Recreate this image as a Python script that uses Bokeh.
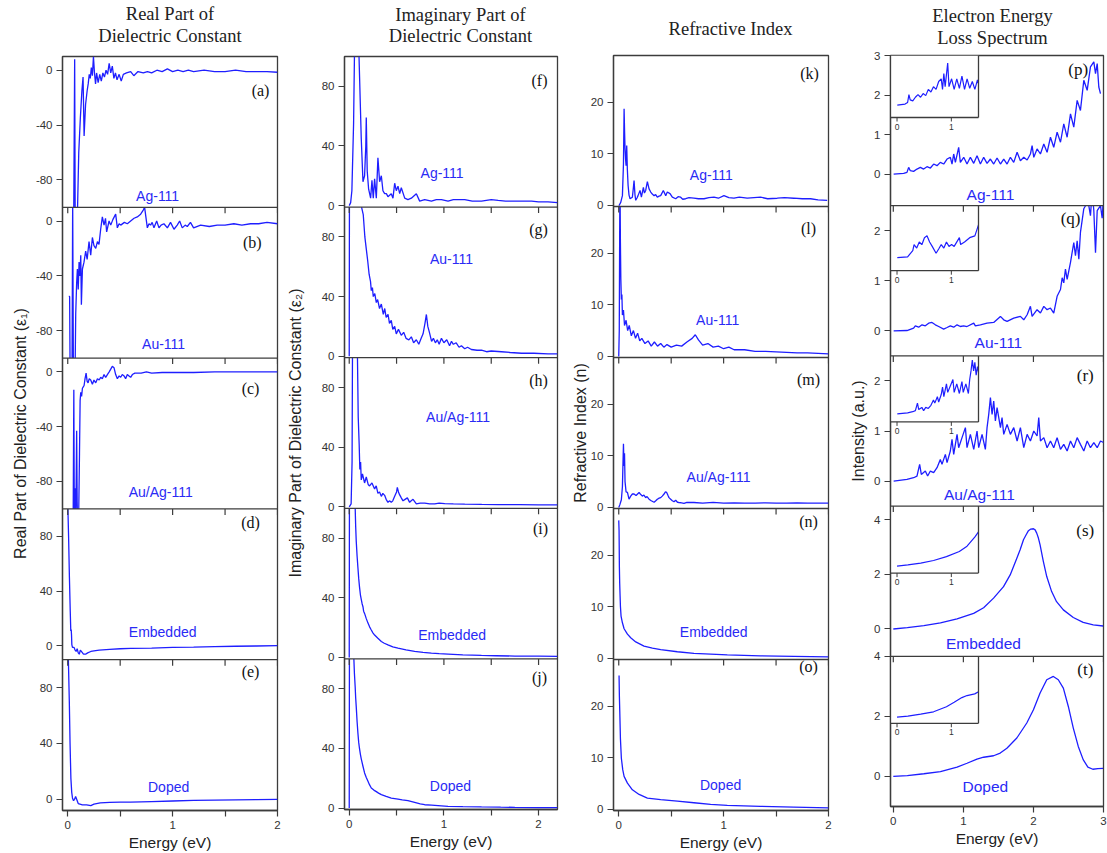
import numpy as np
from bokeh.plotting import figure
from bokeh.models import Range1d, FixedTicker, CustomJSTickFormatter, Span
from bokeh.layouts import row, column
from bokeh.embed import file_html
from bokeh.resources import INLINE
from bokeh.core.properties import value

# ---------------- texts ----------------
col_titles = [["Real Part of", "Dielectric Constant"],
              ["Imaginary Part of", "Dielectric Constant"],
              ["Refractive Index"],
              ["Electron Energy", "Loss Spectrum"]]
y_labels = ["Real Part of Dielectric Constant (\u03b5\u2081)",
            "Imaginary Part of Dielectric Constant (\u03b5\u2082)",
            "Refractive Index (n)",
            "Intensity (a.u.)"]
x_label = "Energy (eV)"
systems = ["Ag-111", "Au-111", "Au/Ag-111", "Embedded", "Doped"]
letters = [["(a)", "(b)", "(c)", "(d)", "(e)"],
           ["(f)", "(g)", "(h)", "(i)", "(j)"],
           ["(k)", "(l)", "(m)", "(n)", "(o)"],
           ["(p)", "(q)", "(r)", "(s)", "(t)"]]

# ---------------- tick values ----------------
x_ticks_half = [0, 0.5, 1, 1.5, 2]
x_ticks_int = [0, 1, 2, 3]
inset_x_ticks = [0, 1]
t_eps1_metal = [-80, -40, 0]
t_eps1_comp = [0, 40, 80]
t_eps2 = [0, 40, 80]
t_n = [0, 10, 20]
t_el_p = [0, 1, 2, 3]
t_el_qr = [0, 1, 2]
t_el_st = [0, 2, 4]

# ---------------- data (energy eV, value) ----------------
re_ag = [(0.055,-130),(0.066,8),(0.072,-130),(0.088,-120),(0.105,-60),(0.12,-35),(0.135,-15),(0.146,-5),
         (0.156,-48),(0.17,-25),(0.185,-15),(0.195,-10),(0.205,-3),(0.215,-6),(0.225,2),(0.235,-4),(0.245,10),
         (0.255,-2),(0.265,-10),(0.275,-2),(0.29,-9),(0.305,-3),(0.32,-8),(0.335,-2),(0.35,-5),(0.365,0),
         (0.38,-3),(0.395,5),(0.41,-2),(0.425,3),(0.44,-6),(0.455,-2),(0.47,-7),(0.49,-3),(0.51,-8),(0.53,-3),
         (0.56,-2),(0.6,-1),(0.63,-4),(0.67,-1),(0.72,-2),(0.76,-1),(0.8,-2),(0.85,0),(0.9,-1),(0.95,1),
         (1.0,-1),(1.05,0),(1.1,-1),(1.15,0),(1.2,-1),(1.3,0),(1.4,-1),(1.5,-1),(1.6,0),(1.7,-1),(1.8,-1),
         (1.9,-1),(2.0,-1.5)]
re_au = [(0.01,-55),(0.018,-55),(0.024,-130),(0.04,-130),(0.047,15),(0.055,-130),(0.07,-110),(0.076,-68),
         (0.085,-45),(0.092,-35),(0.1,-50),(0.108,-30),(0.117,-40),(0.124,-25),(0.13,-61),(0.14,-35),(0.155,-30),
         (0.171,-22),(0.185,-28),(0.203,-15),(0.219,-25),(0.235,-12),(0.25,-18),(0.267,-20),(0.283,-15),
         (0.298,-17),(0.314,-6),(0.33,3),(0.346,-3),(0.36,2),(0.371,-8),(0.394,0),(0.41,-3),(0.43,1),(0.457,5),
         (0.473,-5),(0.49,-2),(0.505,-3),(0.54,-1),(0.568,-2),(0.6,0),(0.632,2),(0.663,3),(0.695,5),(0.72,8),
         (0.733,10),(0.745,3),(0.759,-5),(0.775,-2),(0.79,-3),(0.805,-1),(0.822,-5),(0.848,0),(0.87,-5),
         (0.89,-3),(0.917,-2),(0.95,-5),(0.98,-1),(1.013,-6),(1.044,-3),(1.067,0),(1.092,-5),(1.12,-3),
         (1.14,-4),(1.17,-1),(1.2,-5),(1.267,-3),(1.35,-4),(1.425,-3),(1.5,-3),(1.584,-2),(1.66,-3),
         (1.743,-2),(1.82,-2),(1.9,-1),(2.0,-2)]
re_auag = [(0.05,-130),(0.058,-13),(0.064,-130),(0.072,-85),(0.078,-100),(0.085,-43),(0.09,-95),(0.1,-130),
           (0.112,-60),(0.118,-21),(0.124,-15),(0.132,-18),(0.14,-12),(0.148,-11),(0.156,-10),(0.165,-5),
           (0.175,-1),(0.185,-7),(0.194,-8),(0.205,-5),(0.219,-6),(0.235,-9),(0.25,-6),(0.267,-8),(0.283,-5),
           (0.3,-6),(0.314,-4),(0.33,-5),(0.346,-2),(0.362,-4),(0.378,-2),(0.395,0),(0.41,2),(0.425,4),
           (0.441,3),(0.457,-2),(0.473,-5),(0.49,-3),(0.505,-4),(0.52,-2),(0.537,-3),(0.552,-5),(0.568,-2),
           (0.584,-3),(0.6,-4),(0.616,-2),(0.64,-1),(0.663,-1),(0.7,-1),(0.75,0),(0.8,-1),(0.9,-0.5),
           (1.0,-0.5),(1.2,-0.5),(1.4,0),(1.6,0),(1.8,0),(2.0,0)]
re_emb = [(0.0,105),(0.008,80),(0.016,50),(0.024,25),(0.029,11),(0.033,12),(0.036,8),(0.039,1),(0.045,-1),
          (0.06,-1),(0.07,-3),(0.08,-4),(0.09,-2),(0.1,-5),(0.11,-6),(0.12,-3),(0.13,-4),(0.15,-6),(0.17,-6),
          (0.19,-5),(0.22,-4),(0.25,-3.5),(0.3,-3),(0.4,-2.5),(0.5,-2),(0.6,-1.8),(0.8,-1.5),(1.0,-1),
          (1.2,-0.8),(1.4,-0.5),(1.6,-0.2),(1.8,0),(2.0,0.3)]
re_dop = [(0.0,130),(0.006,100),(0.015,70),(0.022,40),(0.03,15),(0.038,5),(0.045,1),(0.055,-1),(0.065,0),
          (0.075,2),(0.085,0),(0.1,-3),(0.14,-4),(0.18,-4),(0.22,-4.5),(0.25,-3.5),(0.31,-2.6),(0.4,-2.2),
          (0.5,-2),(0.6,-2),(0.8,-1.6),(1.0,-1.2),(1.2,-0.8),(1.4,-0.6),(1.6,-0.4),(1.8,-0.2),(2.0,0)]

im_ag = [(0.0,0),(0.015,2),(0.028,10),(0.046,55),(0.056,105),(0.07,200),(0.09,200),(0.099,110),(0.127,45),
         (0.145,16),(0.162,20),(0.175,40),(0.18,59),(0.19,23),(0.205,11),(0.226,5),(0.24,17),(0.254,5),
         (0.268,18),(0.286,5),(0.303,32),(0.321,16),(0.339,20),(0.356,10),(0.374,8),(0.392,8),(0.409,6),
         (0.444,8),(0.462,5),(0.48,15),(0.497,10),(0.515,13),(0.533,8),(0.55,12),(0.586,5),(0.62,4),
         (0.656,5),(0.709,8),(0.744,3),(0.797,4),(0.868,3),(0.92,4),(0.974,4),(1.044,3),(1.1,4),(1.22,4),
         (1.3,3),(1.397,3),(1.5,4),(1.573,3.5),(1.65,3),(1.75,3),(1.85,3),(1.926,3),(2.0,2.5),(2.1,2.5),(2.2,2)]
im_au = [(0.0,0),(0.004,200),(0.12,200),(0.13,100),(0.148,95),(0.165,80),(0.18,72),(0.195,64),
         (0.21,55),(0.225,50),(0.233,44),(0.245,46),(0.254,40),(0.27,42),(0.286,36),(0.3,38),(0.32,32),
         (0.339,35),(0.36,28),(0.375,32),(0.39,26),(0.41,28),(0.425,22),(0.444,24),(0.46,18),(0.48,20),
         (0.497,15),(0.52,18),(0.55,14),(0.575,16),(0.6,12),(0.63,11),(0.656,13),(0.68,9),(0.709,11),
         (0.735,8),(0.76,12),(0.78,15),(0.8,22),(0.815,28),(0.83,20),(0.847,16),(0.87,10),(0.889,12),
         (0.91,9),(0.93,11),(0.95,8),(0.974,12),(1.0,9),(1.03,11),(1.06,7),(1.08,10),(1.1,8),(1.13,9),
         (1.16,6),(1.185,7),(1.22,5),(1.25,6),(1.29,4.5),(1.35,4),(1.397,4),(1.45,3),(1.5,3.5),(1.608,3),
         (1.7,2.5),(1.82,2),(1.95,2),(2.1,1.5),(2.21,1.5)]
im_auag = [(0.0,0),(0.02,2),(0.03,30),(0.04,200),(0.07,200),(0.085,110),(0.095,60),(0.105,42),(0.112,25),
           (0.12,30),(0.127,18),(0.14,22),(0.162,16),(0.18,20),(0.2,15),(0.215,14),(0.24,16),(0.268,12),
           (0.285,14),(0.303,9),(0.32,10),(0.339,7),(0.355,9),(0.374,7.7),(0.39,5),(0.409,3),(0.425,4),
           (0.444,3),(0.46,4),(0.48,7),(0.5,10),(0.508,13),(0.52,10),(0.533,8),(0.55,6),(0.568,4),(0.59,5),
           (0.614,6),(0.638,3),(0.655,4),(0.674,5),(0.709,2),(0.75,2.5),(0.797,2.5),(0.85,2),(0.903,2),
           (0.95,2.5),(1.009,2.2),(1.1,2),(1.22,1.8),(1.4,1.6),(1.573,1.5),(1.8,1.4),(2.0,1.3),(2.21,1.3)]
im_emb = [(0.0,0),(0.004,200),(0.05,200),(0.063,100),(0.068,88),(0.074,78),(0.083,68),(0.092,60),(0.1,53),
          (0.109,47),(0.118,42),(0.127,39),(0.136,36),(0.145,34),(0.152,31),(0.162,29.5),(0.18,26),
          (0.198,23),(0.215,20.5),(0.233,18.4),(0.25,16.5),(0.268,15),(0.3,13),(0.339,10.7),(0.37,9.5),
          (0.409,8.4),(0.46,7),(0.515,6.2),(0.6,5),(0.691,4),(0.78,3.4),(0.868,2.9),(0.95,2.5),(1.044,2.2),
          (1.2,1.7),(1.397,1.3),(1.55,1.1),(1.75,0.9),(2.0,0.8),(2.21,0.7)]
im_dop = [(0.0,0),(0.004,200),(0.045,200),(0.049,100),(0.055,90),(0.063,81),(0.068,74),(0.074,68),
          (0.083,58),(0.092,50),(0.1,44),(0.109,39.6),(0.118,36),(0.127,33),(0.145,28),(0.162,23.5),
          (0.18,20.5),(0.198,18),(0.215,15.5),(0.233,13.4),(0.26,12),(0.286,11),(0.31,10),(0.339,9),
          (0.39,7.8),(0.444,6.7),(0.515,6),(0.56,5.5),(0.62,5),(0.691,3.8),(0.75,2.8),(0.797,2.2),
          (0.87,1.9),(0.938,1.6),(1.044,1.1),(1.2,0.9),(1.397,0.7),(1.6,0.55),(1.75,0.45),(2.0,0.3),(2.21,0.2)]

n_ag = [(0.0,0),(0.003,0),(0.019,0.6),(0.035,1.9),(0.045,8),(0.051,18.7),(0.056,14),(0.06,11),(0.065,9),
        (0.07,7.7),(0.076,11.6),(0.082,7),(0.089,3.9),(0.098,2),(0.108,1.3),(0.13,1.6),(0.14,3.5),
        (0.146,4.8),(0.155,2),(0.162,1),(0.175,1.5),(0.184,1.9),(0.203,2.9),(0.216,1.6),(0.235,3.5),
        (0.245,2.4),(0.257,2.9),(0.273,4.6),(0.289,3.2),(0.305,2.6),(0.32,2.2),(0.337,1.9),(0.352,2.1),
        (0.368,1.6),(0.384,1.8),(0.4,1.9),(0.425,2.9),(0.448,1.9),(0.463,2.6),(0.489,2.3),(0.511,1.6),
        (0.543,1.3),(0.566,1.7),(0.59,1.6),(0.61,1.2),(0.638,1.3),(0.67,1.5),(0.717,1.4),(0.76,1.3),
        (0.813,1.3),(0.86,1.5),(0.908,1.6),(0.95,1.4),(1.003,1.9),(1.05,1.5),(1.098,1.4),(1.15,1.6),
        (1.225,1.4),(1.29,1.5),(1.352,1.6),(1.42,1.3),(1.511,1.4),(1.58,1.5),(1.67,1.4),(1.75,1.3),
        (1.829,1.3),(1.9,1.1),(1.987,1.0)]
n_au = [(0.0,0),(0.005,5),(0.01,29.5),(0.013,31),(0.016,22),(0.02,15),(0.025,11),(0.03,12),(0.035,8),
        (0.045,9),(0.055,6),(0.07,7),(0.085,5),(0.1,6),(0.12,4),(0.14,5),(0.16,3.5),(0.18,4.5),(0.2,3),
        (0.22,3.5),(0.25,2.5),(0.28,3),(0.31,2),(0.34,2.8),(0.37,2),(0.4,2.5),(0.43,1.8),(0.46,2.3),
        (0.5,1.8),(0.55,2.2),(0.6,2),(0.65,2.8),(0.7,3.5),(0.73,4.2),(0.76,3.2),(0.8,2.2),(0.85,2.5),
        (0.9,1.8),(0.95,2),(1.0,1.5),(1.05,1.8),(1.1,1.3),(1.2,1.3),(1.3,1),(1.4,1),(1.5,0.9),(1.6,0.8),
        (1.7,0.7),(1.8,0.7),(1.9,0.6),(2.0,0.5)]
n_auag = [(0.0,0),(0.01,0.5),(0.025,1.5),(0.035,4),(0.045,12.3),(0.05,8),(0.055,10.5),(0.06,5),(0.07,3),
          (0.083,2.9),(0.098,1.6),(0.114,2.2),(0.13,2.6),(0.146,2.6),(0.165,2.3),(0.194,2.9),(0.21,2.5),
          (0.225,2.2),(0.24,2.4),(0.257,1.9),(0.27,2.1),(0.289,1.6),(0.31,1.3),(0.337,1.0),(0.353,1.3),
          (0.368,1.6),(0.385,1.8),(0.4,1.9),(0.415,2.2),(0.432,2.6),(0.445,3.0),(0.457,2.9),(0.47,2.3),
          (0.479,1.9),(0.495,1.6),(0.511,1.3),(0.527,1.1),(0.543,1.4),(0.56,1.0),(0.575,0.96),(0.6,0.9),
          (0.622,0.8),(0.65,1.0),(0.717,0.96),(0.8,0.85),(0.9,1.0),(1.0,0.85),(1.1,0.9),(1.2,0.85),
          (1.3,0.85),(1.4,0.9),(1.5,0.85),(1.6,0.85),(1.7,0.9),(1.8,0.85),(1.9,0.85),(2.0,0.85)]
n_emb = [(0.0,26.7),(0.003,24.8),(0.0045,21.6),(0.006,17.8),(0.009,14.6),(0.013,12),(0.016,10.1),
         (0.022,8.2),(0.035,6.9),(0.051,5.75),(0.083,4.7),(0.114,4),(0.162,3.2),(0.241,2.4),(0.321,2),
         (0.4,1.7),(0.559,1.3),(0.717,1),(0.876,0.85),(1.035,0.7),(1.352,0.5),(1.67,0.4),(2.0,0.3)]
n_dop = [(0.003,25.9),(0.006,22),(0.01,18.8),(0.016,13.7),(0.025,9.9),(0.038,7.7),(0.051,6.4),(0.083,5.1),
         (0.13,3.8),(0.194,2.9),(0.273,2.2),(0.4,1.9),(0.559,1.6),(0.717,1.3),(0.876,1.0),(1.035,0.8),
         (1.352,0.6),(1.67,0.45),(2.0,0.3)]

el_ag = [(0.005,0),(0.148,0.017),(0.195,0.042),(0.219,0.17),(0.243,0.085),(0.29,0.068),(0.338,0.127),
         (0.386,0.17),(0.433,0.127),(0.481,0.186),(0.529,0.153),(0.576,0.254),(0.624,0.212),(0.671,0.297),
         (0.719,0.254),(0.767,0.381),(0.814,0.424),(0.838,0.254),(0.862,0.508),(0.886,0.297),(0.933,0.678),
         (0.957,0.297),(1.005,0.424),(1.052,0.254),(1.1,0.424),(1.148,0.271),(1.195,0.466),(1.243,0.254),
         (1.29,0.424),(1.338,0.271),(1.386,0.381),(1.433,0.254),(1.481,0.407),(1.529,0.254),(1.576,0.381),
         (1.624,0.254),(1.671,0.424),(1.719,0.297),(1.767,0.551),(1.814,0.339),(1.862,0.424),(1.91,0.356),
         (1.957,0.508),(1.981,0.72),(2.005,0.424),(2.052,0.636),(2.1,0.508),(2.148,0.763),(2.195,0.551),
         (2.243,0.932),(2.29,0.678),(2.338,1.059),(2.386,0.805),(2.433,1.271),(2.481,0.932),(2.529,1.525),
         (2.576,1.186),(2.624,1.864),(2.671,1.61),(2.719,2.373),(2.767,2.119),(2.814,2.712),(2.862,2.839),
         (2.886,2.542),(2.91,2.797),(2.933,2.203),(2.957,2.034)]
el_au = [(0.005,0),(0.195,0.007),(0.29,0.054),(0.314,0.1),(0.362,0.074),(0.41,0.121),(0.457,0.1),
         (0.505,0.154),(0.552,0.168),(0.6,0.121),(0.648,0.087),(0.719,0.034),(0.767,0.067),(0.814,0.101),
         (0.862,0.074),(0.91,0.121),(0.957,0.087),(1.005,0.101),(1.052,0.087),(1.148,0.154),(1.171,0.101),
         (1.243,0.121),(1.338,0.154),(1.433,0.168),(1.529,0.289),(1.576,0.221),(1.624,0.188),(1.719,0.255),
         (1.814,0.289),(1.862,0.221),(1.91,0.322),(1.957,0.49),(1.981,0.289),(2.052,0.423),(2.1,0.356),
         (2.148,0.49),(2.195,0.423),(2.243,0.456),(2.29,0.356),(2.338,0.691),(2.386,0.826),(2.41,1.06),
         (2.433,0.96),(2.457,1.235),(2.481,1.03),(2.529,1.369),(2.576,1.765),(2.6,1.5),(2.624,1.8),
         (2.648,1.43),(2.671,1.966),(2.719,2.44),(2.743,2.5),(2.767,2.8),(2.79,2.5),(2.814,2.3),(2.838,2.8),
         (2.862,2.4),(2.886,1.56),(2.91,2.4),(2.957,2.5),(2.981,2.25),(3.005,2.8)]
el_auag = [(0.005,0),(0.195,0.033),(0.29,0.067),(0.338,0.1),(0.376,0.333),(0.4,0.133),(0.457,0.2),
           (0.49,0.1),(0.529,0.2),(0.576,0.167),(0.624,0.267),(0.671,0.433),(0.695,0.333),(0.743,0.533),
           (0.767,0.367),(0.814,0.6),(0.838,0.833),(0.862,0.533),(0.91,0.933),(0.933,0.667),(0.981,0.867),
           (1.029,1.067),(1.052,0.667),(1.1,0.933),(1.148,0.633),(1.195,1.0),(1.219,0.667),(1.267,0.933),
           (1.314,0.633),(1.338,1.067),(1.362,1.333),(1.386,1.667),(1.41,1.333),(1.433,1.6),(1.457,1.2),
           (1.481,1.467),(1.529,1.067),(1.552,1.267),(1.576,0.933),(1.624,1.133),(1.671,0.933),(1.719,1.067),
           (1.767,0.8),(1.814,1.067),(1.862,0.667),(1.91,0.933),(1.957,0.8),(2.005,1.0),(2.052,0.9),
           (2.076,1.267),(2.1,0.8),(2.148,0.867),(2.195,0.667),(2.243,0.8),(2.29,0.667),(2.338,0.867),
           (2.386,0.633),(2.433,0.733),(2.481,0.6),(2.529,0.8),(2.576,0.667),(2.624,0.867),(2.671,0.733),
           (2.719,0.6),(2.767,0.8),(2.814,0.667),(2.862,0.767),(2.91,0.667),(2.957,0.8),(3.005,0.767)]
el_emb = [(0.0,0),(0.2,0.05),(0.436,0.12),(0.673,0.22),(0.91,0.37),(1.147,0.57),(1.289,0.78),(1.431,1.13),
          (1.573,1.55),(1.668,1.98),(1.763,2.59),(1.81,2.9),(1.858,3.27),(1.896,3.45),(1.929,3.6),
          (1.962,3.66),(2.0,3.67),(2.024,3.63),(2.047,3.51),(2.071,3.33),(2.095,3.08),(2.118,2.78),
          (2.142,2.47),(2.19,1.92),(2.26,1.37),(2.33,1.0),(2.427,0.7),(2.569,0.42),(2.71,0.24),(2.853,0.15),
          (2.995,0.11)]
el_dop = [(0.0,0),(0.2,0.03),(0.436,0.09),(0.673,0.16),(0.91,0.31),(1.052,0.44),(1.194,0.58),(1.289,0.64),
          (1.431,0.69),(1.526,0.78),(1.621,0.94),(1.763,1.28),(1.905,1.78),(2.0,2.22),(2.095,2.78),
          (2.19,3.22),(2.284,3.33),(2.355,3.22),(2.427,2.94),(2.498,2.33),(2.569,1.61),(2.64,1.0),
          (2.71,0.56),(2.777,0.31),(2.848,0.24),(2.92,0.26),(2.995,0.27)]

# ---------------- styles / layout ----------------
BLUE = "#1e1eff"
TXT_BLUE = "#2a2af5"
AX = "#3c3c3c"
DARK = "#222222"
SANS = "Liberation Sans"
SERIF = "Liberation Serif"
PAGE_H = 853
NP = 5

columns = [
    dict(xr=(-0.05, 2.0), xt=x_ticks_half, W=282, mbl=62, mbr=5, TH=48, FH=756, ylab_so=4,
         t_off=0, t_y=[13.5, 35], lab_fs="14px", let_fs="16px",
         panels=[dict(d=re_ag, lo=-100, hi=10, t=t_eps1_metal, lab=(0.857, -92), let=(1.838, -15)),
                 dict(d=re_au, lo=-100, hi=10, t=t_eps1_metal, lab=(0.914, -90), let=(1.76, -15.5)),
                 dict(d=re_auag, lo=-100, hi=10, t=t_eps1_metal, lab=(0.886, -87.5), let=(1.743, -12)),
                 dict(d=re_emb, lo=-10, hi=100, t=t_eps1_comp, lab=(0.905, 10), let=(1.743, 90)),
                 dict(d=re_dop, lo=-8, hi=100, t=t_eps1_comp, lab=(0.962, 9), let=(1.743, 91.5))]),
    dict(xr=(-0.05, 2.2), xt=x_ticks_half, W=278, mbl=62, mbr=3, TH=48, FH=753, ylab_so=15,
         t_off=9.5, t_y=[14, 35], lab_fs="14px", let_fs="16px",
         panels=[dict(d=im_ag, lo=-1, hi=100, t=t_eps2, lab=(0.981, 22), let=(2.01, 84)),
                 dict(d=im_au, lo=-1, hi=100, t=t_eps2, lab=(1.08, 65), let=(2.0, 85)),
                 dict(d=im_auag, lo=-1, hi=100, t=t_eps2, lab=(1.15, 60), let=(2.0, 84.5)),
                 dict(d=im_emb, lo=-1, hi=100, t=t_eps2, lab=(1.087, 15), let=(2.02, 86.5)),
                 dict(d=im_dop, lo=-1, hi=100, t=t_eps2, lab=(1.069, 15), let=(2.01, 87.5))]),
    dict(xr=(-0.05, 2.0), xt=x_ticks_half, W=273, mbl=53, mbr=5, TH=47, FH=757, ylab_so=-1,
         t_off=9.5, t_y=[28], lab_fs="14px", let_fs="16px",
         panels=[dict(d=n_ag, lo=-0.2, hi=29, t=t_n, lab=(0.883, 5.9), let=(1.819, 25.5)),
                 dict(d=n_au, lo=-0.2, hi=29, t=t_n, lab=(0.943, 7.0), let=(1.81, 24.8)),
                 dict(d=n_auag, lo=-0.2, hi=29, t=t_n, lab=(0.952, 5.8), let=(1.81, 24.8)),
                 dict(d=n_emb, lo=-0.2, hi=29, t=t_n, lab=(0.905, 5.1), let=(1.81, 26.4)),
                 dict(d=n_dop, lo=-0.2, hi=29, t=t_n, lab=(0.971, 4.75), let=(1.81, 27.6))]),
    dict(xr=(-0.04, 3.0), xt=x_ticks_int, W=274, mbl=57, mbr=4, TH=47, FH=751, ylab_so=4,
         t_off=-4.5, t_y=[15, 37], lab_fs="15.5px", let_fs="17px",
         panels=[dict(d=el_ag, lo=-0.8, hi=3, t=t_el_p, lab=(1.386, -0.51), let=(2.64, 2.64),
                      ins=dict(yr=(-0.2, 0.8), h=62)),
                 dict(d=el_au, lo=-0.5, hi=2.5, t=t_el_qr, lab=(1.5, -0.24), let=(2.53, 2.24),
                      ins=dict(yr=(-0.1, 0.4), h=65)),
                 dict(d=el_auag, lo=-0.5, hi=2.5, t=t_el_qr, lab=(1.229, -0.26), let=(2.74, 2.1),
                      ins=dict(yr=(-0.25, 1.8), h=66)),
                 dict(d=el_emb, lo=-1, hi=4.5, t=t_el_st, lab=(1.286, -0.54), let=(2.74, 3.6),
                      ins=dict(yr=(-0.27, 2.34), h=67)),
                 dict(d=el_dop, lo=-1, hi=4, t=t_el_st, lab=(1.314, -0.34), let=(2.74, 3.56),
                      ins=dict(yr=(-0.18, 1.8), h=67))]),
]
INSET_XR = (-0.12, 1.5)
INSET_W = 88
MAIN_TOP = 8


def clip_poly(xs, ys, xlo, xhi, ylo, yhi):
    """Liang-Barsky clipping of a polyline to a rectangle; gaps become NaN."""
    ox, oy = [], []
    last = None
    for i in range(len(xs) - 1):
        x0, y0, x1, y1 = xs[i], ys[i], xs[i + 1], ys[i + 1]
        dx, dy = x1 - x0, y1 - y0
        t0, t1 = 0.0, 1.0
        ok = True
        for p, q in ((-dx, x0 - xlo), (dx, xhi - x0), (-dy, y0 - ylo), (dy, yhi - y0)):
            if p == 0:
                if q < 0:
                    ok = False
                    break
            else:
                r = q / p
                if p < 0:
                    if r > t1:
                        ok = False
                        break
                    t0 = max(t0, r)
                else:
                    if r < t0:
                        ok = False
                        break
                    t1 = min(t1, r)
        if not ok:
            continue
        ax, ay = x0 + t0 * dx, y0 + t0 * dy
        bx, by = x0 + t1 * dx, y0 + t1 * dy
        if last is None or abs(last[0] - ax) > 1e-12 or abs(last[1] - ay) > 1e-12:
            if last is not None:
                ox.append(np.nan)
                oy.append(np.nan)
            ox.append(ax)
            oy.append(ay)
        ox.append(bx)
        oy.append(by)
        last = (bx, by)
    return np.array(ox, dtype=float), np.array(oy, dtype=float)


cols = []
for ci, col in enumerate(columns):
    xlo, xhi = col["xr"]
    W, TH, FH = col["W"], col["TH"], col["FH"]
    FW = W - col["mbl"] - col["mbr"]
    HM = PAGE_H - TH
    mbb = HM - MAIN_TOP - FH

    # ---- title strip (its frame is aligned with the panel frame below) ----
    tf = figure(width=W, height=TH, x_range=Range1d(0, FW), y_range=Range1d(TH, 0), title=None,
                output_backend="svg", toolbar_location=None, x_axis_location=None, y_axis_location=None,
                min_border_left=0, min_border_right=0, min_border_top=0, min_border_bottom=0)
    tf.xgrid.visible = False
    tf.ygrid.visible = False
    tf.outline_line_color = None
    tf.background_fill_color = "white"
    tf.border_fill_color = "white"
    cx = FW / 2 + col["t_off"]
    tf.text(x=[cx] * len(col_titles[ci]), y=col["t_y"], text=col_titles[ci], text_font=value(SERIF),
            text_font_size="18.5px", text_color=DARK, text_align="center", text_baseline="middle")

    # ---- stacked panels ----
    f = figure(width=W, height=HM, x_range=Range1d(xlo, xhi), y_range=Range1d(0, NP),
               title=None, output_backend="svg", toolbar_location=None,
               min_border_left=col["mbl"], min_border_right=col["mbr"],
               min_border_top=MAIN_TOP, min_border_bottom=mbb)
    f.xgrid.visible = False
    f.ygrid.visible = False
    f.background_fill_color = "white"
    f.border_fill_color = "white"
    f.outline_line_color = AX
    f.outline_line_width = 1.3

    pos, labs = [], []
    for i, pn in enumerate(col["panels"]):
        base = NP - 1 - i
        for t in pn["t"]:
            pos.append(base + (t - pn["lo"]) / (pn["hi"] - pn["lo"]))
            labs.append(str(t))
    yax = f.yaxis[0]
    yax.ticker = FixedTicker(ticks=pos)
    yax.formatter = CustomJSTickFormatter(args=dict(pos=pos, lab=labs), code="""
        for (let i = 0; i < pos.length; i++) { if (Math.abs(pos[i] - tick) < 1e-6) { return lab[i]; } }
        return '';""")
    yax.axis_label = y_labels[ci]
    yax.axis_label_standoff = col["ylab_so"]
    xax = f.xaxis[0]
    xax.ticker = FixedTicker(ticks=col["xt"])
    xax.formatter = CustomJSTickFormatter(code="""
        return Math.abs(tick - Math.round(tick)) < 1e-9 ? Math.round(tick).toString() : '';""")
    xax.axis_label = x_label
    xax.axis_label_standoff = 2
    for ax in (xax, yax):
        ax.axis_line_color = AX
        ax.axis_line_width = 1.3
        ax.major_tick_line_color = AX
        ax.major_tick_line_width = 1.2
        ax.major_tick_out = 6
        ax.major_tick_in = 0
        ax.minor_tick_line_color = None
        ax.major_label_standoff = 4
        ax.major_label_text_font = SANS
        ax.major_label_text_font_size = "11.5px"
        ax.major_label_text_color = "#333333"
        ax.axis_label_text_font = SANS
        ax.axis_label_text_font_size = "16px" if ax is yax else "15.5px"
        ax.axis_label_text_font_style = "normal"
        ax.axis_label_text_color = DARK

    ppx = FH / NP
    for i, pn in enumerate(col["panels"]):
        base = NP - 1 - i
        lo, hi = pn["lo"], pn["hi"]
        xs = [p[0] for p in pn["d"]]
        ys = [p[1] for p in pn["d"]]
        cxs, cys = clip_poly(xs, ys, xlo, xhi, lo, hi)
        f.line(cxs, base + (cys - lo) / (hi - lo), line_color=BLUE, line_width=1.3)

        lx, ly = pn["lab"]
        f.text(x=[lx], y=[base + (ly - lo) / (hi - lo)], text=[systems[i]], text_font=value(SANS),
               text_font_size=col["lab_fs"], text_color=TXT_BLUE, text_align="center",
               text_baseline="middle")
        gx, gy = pn["let"]
        f.text(x=[gx], y=[base + (gy - lo) / (hi - lo)], text=[letters[ci][i]], text_font=value(SERIF),
               text_font_size=col["let_fs"], text_color="#111111", text_align="center",
               text_baseline="middle")

        if "ins" in pn:
            ix0, ix1 = INSET_XR
            iy0, iy1 = pn["ins"]["yr"]
            ih = pn["ins"]["h"]
            top = base + 1.0
            wfrac = INSET_W / FW
            hfrac = ih / ppx

            def gx_(v):
                return xlo + (np.asarray(v, dtype=float) - ix0) / (ix1 - ix0) * wfrac * (xhi - xlo)

            def gy_(v):
                return top - (iy1 - np.asarray(v, dtype=float)) / (iy1 - iy0) * hfrac

            f.quad(left=[xlo], right=[float(gx_(ix1))], bottom=[float(gy_(iy0))], top=[top],
                   fill_color="white", line_color=None)
            icx, icy = clip_poly(xs, ys, 0.0, ix1, iy0, iy1)
            f.line(gx_(icx), gy_(icy), line_color=BLUE, line_width=1.2)
            f.segment(x0=[float(gx_(ix1)), xlo], y0=[top, float(gy_(iy0))],
                      x1=[float(gx_(ix1)), float(gx_(ix1))], y1=[float(gy_(iy0)), float(gy_(iy0))],
                      line_color=AX, line_width=1.3)
            tick_len = 4 * NP / FH
            tx = [float(gx_(t)) for t in inset_x_ticks]
            f.segment(x0=tx, x1=tx, y0=[float(gy_(iy0))] * len(tx),
                      y1=[float(gy_(iy0)) - tick_len] * len(tx), line_color=AX, line_width=1.0)
            f.text(x=tx, y=[float(gy_(iy0)) - tick_len] * len(tx), text=[str(t) for t in inset_x_ticks],
                   text_font=value(SANS), text_font_size="8.5px", text_color="#333333",
                   text_align="center", text_baseline="top", y_offset=2)

    tick_len = 6 * NP / FH
    for b in range(1, NP):
        f.add_layout(Span(location=b, dimension="width", line_color=AX, line_width=1.3))
        f.segment(x0=col["xt"], x1=col["xt"], y0=[b] * len(col["xt"]),
                  y1=[b - tick_len] * len(col["xt"]), line_color=AX, line_width=1.2)
    cols.append(column(tf, f))

layout = row(*cols)
open("out.html", "w").write(file_html(layout, INLINE))
